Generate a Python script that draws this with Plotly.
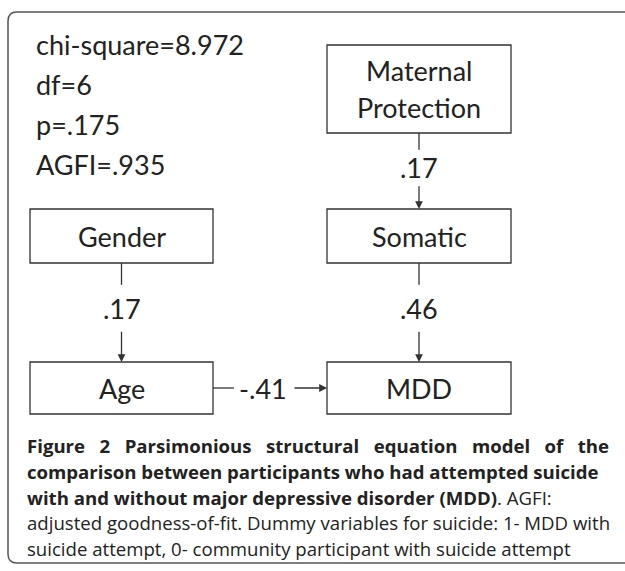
import plotly.graph_objects as go

W, H = 625, 571

# ---- data ----
fit_stats = ["chi-square=8.972", "df=6", "p=.175", "AGFI=.935"]
nodes = ["Maternal<br>Protection", "Gender", "Somatic", "Age", "MDD"]
paths = [("Maternal<br>Protection", "Somatic", ".17"),
         ("Gender", "Age", ".17"),
         ("Somatic", "MDD", ".46"),
         ("Age", "MDD", "-.41")]
caption_bold = ["Figure 2 Parsimonious structural equation model of the",
                "comparison between participants who had attempted suicide",
                "with and without major depressive disorder (MDD)"]
caption_rest = [". AGFI:",
                "adjusted goodness-of-fit. Dummy variables for suicide: 1- MDD with",
                "suicide attempt, 0- community participant with suicide attempt"]

# ---- layout (pixel boxes: x0, y0, x1, y1) ----
box = {
    "Maternal<br>Protection": (327, 45, 511, 133),
    "Gender": (30, 209, 213, 263),
    "Somatic": (327, 209, 511, 263),
    "Age": (30, 362, 213, 414),
    "MDD": (327, 362, 511, 414),
}

FONT = "Lato, Open Sans, sans-serif"
CFONT = "Open Sans, sans-serif"
LC = "#333333"
TC = "#222222"
FS = 27
CS = 18.6
shapes, ann = [], []

# outer rounded frame
x0, y0, x1, y1, r = 8, 12, 640, 563, 9
shapes.append(dict(type="path", xref="x", yref="y",
                   path=f"M {x0+r},{y0} L {x1},{y0} L {x1},{y1} L {x0+r},{y1} Q {x0},{y1} {x0},{y1-r} L {x0},{y0+r} Q {x0},{y0} {x0+r},{y0} Z",
                   line=dict(color="#555555", width=1.5), fillcolor="rgba(0,0,0,0)"))

for name in nodes:
    bx0, by0, bx1, by1 = box[name]
    shapes.append(dict(type="rect", xref="x", yref="y", x0=bx0, y0=by0, x1=bx1, y1=by1,
                       line=dict(color=LC, width=1.3), fillcolor="white"))
    parts = name.split("<br>")
    yc = (by0 + by1) / 2
    for k, p in enumerate(parts):
        yy = yc + (k - (len(parts) - 1) / 2) * 37
        ann.append(dict(x=(bx0 + bx1) / 2, y=yy, xref="x", yref="y", text=p,
                        showarrow=False, font=dict(family=FONT, size=FS, color=TC),
                        xanchor="center", yanchor="middle"))

for src, dst, lab in paths:
    sx0, sy0, sx1, sy1 = box[src]
    dx0, dy0, dx1, dy1 = box[dst]
    if abs((sx0 + sx1) / 2 - (dx0 + dx1) / 2) < 5:  # vertical
        xc = (sx0 + sx1) / 2
        ystart, yend = sy1, dy0
        L = yend - ystart
        ymid = ystart + 0.46 * L
        shapes.append(dict(type="line", xref="x", yref="y", x0=xc, x1=xc, y0=ystart, y1=ystart + 0.22 * L,
                           line=dict(color=LC, width=1.3)))
        ann.append(dict(x=xc, y=yend, ax=xc, ay=ystart + 0.68 * L, xref="x", yref="y",
                        axref="x", ayref="y", text="", showarrow=True, arrowhead=2, arrowsize=1.2,
                        arrowwidth=1.3, arrowcolor=LC))
        ann.append(dict(x=xc, y=ymid, xref="x", yref="y", text=lab, showarrow=False,
                        font=dict(family=FONT, size=FS, color=TC), xanchor="center", yanchor="middle"))
    else:  # horizontal
        yc = (sy0 + sy1) / 2
        xstart, xend = sx1, dx0
        xmid = (xstart + xend) / 2 - 7
        shapes.append(dict(type="line", xref="x", yref="y", x0=xstart, x1=xstart + 21, y0=yc, y1=yc,
                           line=dict(color=LC, width=1.3)))
        ann.append(dict(x=xend, y=yc, ax=xend - 34, ay=yc, xref="x", yref="y",
                        axref="x", ayref="y", text="", showarrow=True, arrowhead=2, arrowsize=1.2,
                        arrowwidth=1.3, arrowcolor=LC))
        ann.append(dict(x=xmid, y=yc, xref="x", yref="y", text=lab, showarrow=False,
                        font=dict(family=FONT, size=FS, color=TC), xanchor="center", yanchor="middle"))

for i, s in enumerate(fit_stats):
    ann.append(dict(x=34, y=44 + 40 * i, xref="x", yref="y", text=s, showarrow=False,
                    font=dict(family=FONT, size=FS, color=TC), xanchor="left", yanchor="middle"))

cap_y = [445, 471, 497, 522, 548]
line1 = caption_bold[0].replace(" ", "\u00a0\u00a0 ")
cap_lines = [
    f"<b>{line1}</b>",
    f"<b>{caption_bold[1]}</b>",
    f"<b>{caption_bold[2]}</b>{caption_rest[0]}",
    caption_rest[1],
    caption_rest[2],
]
for y, t in zip(cap_y, cap_lines):
    ann.append(dict(x=25, y=y, xref="x", yref="y", text=t, showarrow=False,
                    font=dict(family=CFONT, size=CS, color=TC), xanchor="left", yanchor="middle"))

fig = go.Figure()
fig.update_layout(width=W, height=H, margin=dict(l=0, r=0, t=0, b=0),
                  paper_bgcolor="white", plot_bgcolor="white",
                  xaxis=dict(range=[0, W], visible=False, fixedrange=True),
                  yaxis=dict(range=[H, 0], visible=False, fixedrange=True),
                  shapes=shapes, annotations=ann, showlegend=False)
fig.write_html("out.html", config={"displayModeBar": False},
               post_script="document.body.style.margin='0';document.body.style.overflow='hidden';")
